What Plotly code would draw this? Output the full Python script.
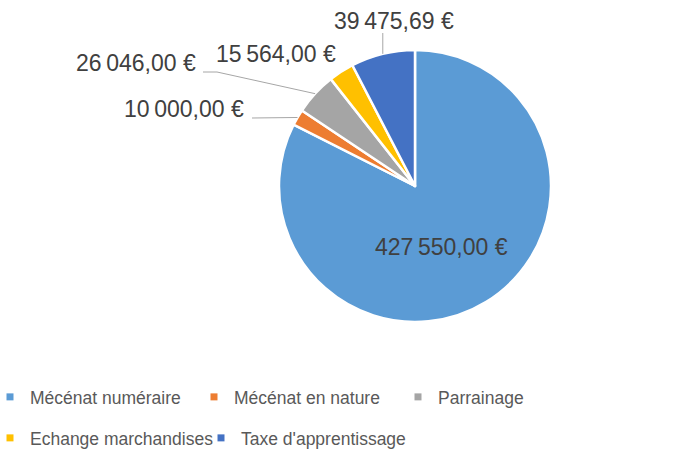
import math
import plotly.graph_objects as go

categories = ["Mécénat numéraire", "Mécénat en nature", "Parrainage",
              "Echange marchandises", "Taxe d'apprentissage"]
values = [427550.00, 10000.00, 26046.00, 15564.00, 39475.69]
colors = ["#5B9BD5", "#ED7D31", "#A5A5A5", "#FFC000", "#4472C4"]

W, H = 690, 456
CX, CY, R = 415, 186, 136
FONT = "Liberation Sans, Arial, sans-serif"


def fmt(v):
    s = f"{v:,.2f}"
    return s.replace(",", "\u202f").replace(".", ",") + "\u00a0€"


def px2paper(x, y):
    return x / W, 1 - y / H


fig = go.Figure()
fig.add_trace(go.Pie(
    labels=categories, values=values, sort=False, direction="clockwise",
    rotation=0, textinfo="none", showlegend=False,
    marker=dict(colors=colors, line=dict(color="white", width=2.5)),
    domain=dict(x=[(CX - R) / W, (CX + R) / W], y=[1 - (CY + R) / H, 1 - (CY - R) / H]),
))

# legend entries (small square markers)
row_of = ["legend", "legend", "legend", "legend2", "legend2"]
for cat, col, lg in zip(categories, colors, row_of):
    fig.add_trace(go.Scatter(x=[None], y=[None], mode="markers", name=cat,
                             marker=dict(symbol="square", size=7, color=col),
                             legend=lg, hoverinfo="skip"))

# label layout (pixel positions of text centres) and leader-line elbows
label_pos = {0: (441, 247), 1: (184, 109), 2: (136, 63), 3: (276, 54), 4: (394, 21)}
elbows = {1: [(252, 118)], 2: [(217, 72), (203, 72)], 4: [("same", 33)]}

total = sum(values)
cum = 0.0
annotations = []
shapes = []
for i, v in enumerate(values):
    mid = (cum + v / 2) / total * 2 * math.pi
    cum += v
    ex = CX + R * math.sin(mid)
    ey = CY - R * math.cos(mid)
    tx, ty = label_pos[i]
    px, py = px2paper(tx, ty)
    annotations.append(dict(x=px, y=py, xref="paper", yref="paper", text=fmt(v),
                            showarrow=False, xanchor="center", yanchor="middle",
                            font=dict(family=FONT, size=23, color="#404040")))
    if i in elbows:
        pts = [(ex, ey)] + [((ex if a == "same" else a), b) for a, b in elbows[i]]
        path = ""
        for k, (a, b) in enumerate(pts):
            qa, qb = px2paper(a, b)
            path += ("M" if k == 0 else "L") + f"{qa},{qb} "
        shapes.append(dict(type="path", xref="paper", yref="paper", path=path.strip(),
                           line=dict(color="#A6A6A6", width=1)))

legend_common = dict(orientation="h", xanchor="left", yanchor="middle",
                     font=dict(family=FONT, size=17.5, color="#595959"),
                     bgcolor="rgba(0,0,0,0)", entrywidthmode="pixels",
                     indentation=-10,
                     itemclick=False, itemdoubleclick=False)

fig.update_layout(
    width=W, height=H, margin=dict(l=0, r=0, t=0, b=0, autoexpand=False),
    paper_bgcolor="white", plot_bgcolor="white",
    xaxis=dict(visible=False), yaxis=dict(visible=False),
    annotations=annotations, shapes=shapes,
    legend=dict(x=0, y=1 - 397 / H, entrywidth=169, **legend_common),
    legend2=dict(x=0, y=1 - 438 / H, entrywidth=176, **legend_common),
    font=dict(family=FONT),
)

fig.write_html("out.html", config={"displayModeBar": False},
               post_script="document.body.style.margin='0';document.body.style.overflow='hidden';")
